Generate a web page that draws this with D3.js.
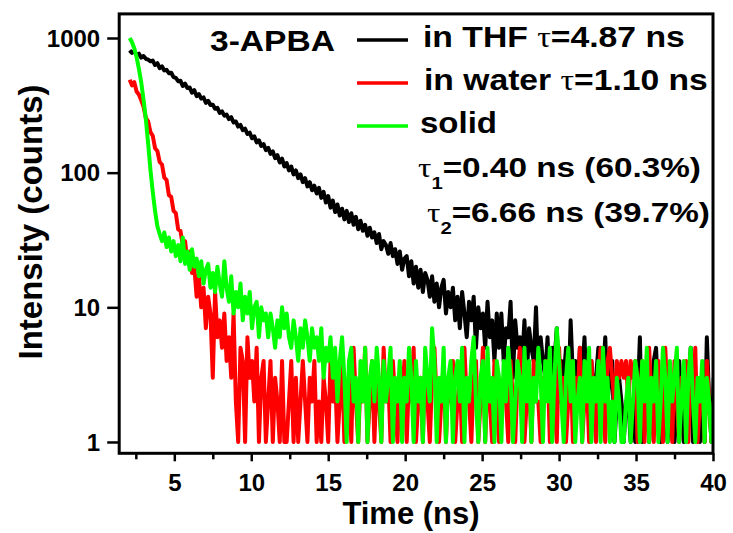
<!DOCTYPE html>
<html><head><meta charset="utf-8">
<script src="https://cdn.jsdelivr.net/npm/d3@7"></script>
<style>
body{margin:0;background:#fff}
svg{display:block}
text{font-family:"Liberation Sans",Arial,Helvetica,sans-serif;font-weight:bold;fill:#000}
</style>
</head><body>
<svg id="chart" width="733" height="533"></svg>
<script>
// TCSPC channel grid (ns)
const channelStart = 2.1, channelWidth = 0.15;

// Counts, one value per channel
const thf = [
810,775,795,750,765,715,735,700,690,672,680,630,650,598,615,575,580,548,552,512,
505,478,482,440,458,425,428,392,410,370,383,355,362,330,342,318,320,298,303,278,
285,265,270,250,258,236,240,220,226,207,212,194,198,180,186,168,174,158,163,147,
153,138,144,128,135,119,127,111,118,104,111,97,104,91,97,85,91,79,85,74,
80,70,77,65,72,60,67,55,62,51,58,48,54,45,52,43,50,41,47,38,
44,37,41,34,39,33,36,30,35,27,31,29,25,30,24,27,21,26,19,23,
24,17,22,15,20,14,19,13,18,16,12,17,11,15,10,14,16,9,13,10,
14,8,12,7,13,9,6,11,8,12,5,10,7,9,5,11,6,8,4,9,
5,9,4,7,6,11,3,8,5,6,4,8,3,7,5,4,10,3,6,4,
3,6,2,5,4,7,2,4,3,5,2,8,3,4,2,5,3,6,2,4,
4,2,3,5,2,3,6,2,3,4,1,2,3,2,1,2,2,1,2,1,
2,6,1,2,3,1,2,4,5,2,1,3,2,1,2,3,1,2,4,2,
1,3,2,5,1,2,3,1,2,1,6,2,1,3
];
const water = [
490,445,470,400,380,345,310,255,240,200,188,152,145,120,115,92,88,68,66,52,
50,38,37,29,31,22,26,18,20,12,17,10,14,7,12,9,3,13,6,8,
5,9,4,6,3,9,2,1,5,4,1,6,3,4,2,5,1,3,4,1,
2,4,1,3,2,1,4,1,1,2,4,1,3,1,2,4,2,1,3,2,
4,1,2,1,3,2,1,4,2,3,1,2,4,1,2,3,1,5,2,1,
3,2,5,1,2,4,1,3,2,1,5,2,3,1,4,2,1,3,2,4,
1,3,2,5,1,2,3,1,4,2,1,3,5,2,1,2,4,1,3,2,
4,1,2,3,1,5,2,2,1,3,4,1,2,5,1,3,2,1,4,2,
1,2,3,2,1,4,2,1,3,5,2,1,2,3,1,4,2,2,1,3,
2,4,1,3,2,1,5,2,3,1,2,4,1,3,2,5,1,2,3,1,
4,2,1,3,5,2,1,4,5,3,2,4,3,4,3,4,2,4,3,4,
1,2,4,1,3,5,2,1,3,4,2,1,5,2,3,1,4,2,1,3,
2,4,1,3,2,5,1,2,3,1,4,2,1,2
];
const solid = [
1000,930,840,720,590,470,350,250,165,105,72,52,40,35,31,36,28,33,26,31,
24,29,22,33,21,26,19,27,20,23,17,22,15,19,21,14,18,13,20,15,
12,22,14,11,17,9,13,10,15,8,12,9,13,7,10,11,6,10,8,9,
6,9,7,5,8,6,10,7,9,6,5,8,6,4,7,5,8,6,4,7,
5,6,4,7,3,5,4,6,3,5,2,4,6,3,1,4,5,2,3,1,
4,2,5,1,3,4,2,5,3,1,4,2,3,5,1,3,2,4,1,3,
2,5,3,1,4,2,3,1,5,3,2,7,4,1,3,2,5,1,3,4,
1,3,4,2,5,1,3,2,4,6,2,1,3,4,1,5,2,3,1,4,
3,1,4,2,5,3,1,2,4,3,1,5,2,4,1,3,2,5,3,1,
4,2,5,1,3,7,4,2,1,3,5,2,4,1,2,3,1,4,2,5,
1,3,2,4,1,5,2,3,1,2,1,3,2,1,1,2,3,1,2,4,
3,1,4,2,5,1,3,2,4,1,2,5,3,1,4,2,3,5,1,2,
4,1,3,5,2,1,3,2,4,1,3,2,1,2
];

const seriesNames = ["in THF", "in water", "solid"];
const seriesLifetimes = ["=4.87 ns", "=1.10 ns", ""];
const seriesColors = ["#000000", "#ff0000", "#00ff00"];
const solidComponents = [["1", "=0.40 ns (60.3%)"], ["2", "=6.66 ns (39.7%)"]];
const sampleName = "3-APBA";
const xTicks = [5, 10, 15, 20, 25, 30, 35, 40];
const xMinorTicks = [2.5, 7.5, 12.5, 17.5, 22.5, 27.5, 32.5, 37.5];
const yTicks = [1, 10, 100, 1000];
const xTitle = "Time (ns)";
const yTitle = "Intensity (counts)";

const svg = d3.select("#chart");
const L = 119.2, R = 713, T = 13.9, B = 453.3;
const x = d3.scaleLinear().domain([1.42, 40]).range([L, R]);
const y = d3.scaleLog().domain([0.824, 1510]).range([B, T]);

svg.append("clipPath").attr("id", "clip")
  .append("rect").attr("x", L).attr("y", T).attr("width", R - L).attr("height", B - T);

const seriesData = [thf, water, solid];
const line = d3.line()
  .x((d, i) => x(channelStart + i * channelWidth))
  .y(d => y(d));

const plot = svg.append("g").attr("clip-path", "url(#clip)");
seriesData.forEach((vals, k) => {
  plot.append("path").datum(vals)
    .attr("d", line)
    .attr("fill", "none")
    .attr("stroke", seriesColors[k])
    .attr("stroke-width", 4)
    .attr("stroke-linejoin", "round");
});

// axes
const yAxis = svg.append("g").attr("transform", `translate(${L},0)`)
  .call(d3.axisLeft(y).tickValues(yTicks).tickSize(12).tickPadding(7).tickFormat(d3.format("d")));
yAxis.select(".domain").remove();
yAxis.selectAll("line").attr("stroke", "#000").attr("stroke-width", 2.5);
yAxis.selectAll("text").attr("font-size", 24).attr("font-family", null).attr("dy", "0.34em");

const xAxis = svg.append("g").attr("transform", `translate(0,${B})`)
  .call(d3.axisBottom(x).tickValues(xTicks).tickSize(8).tickPadding(13).tickFormat(d3.format("d")));
xAxis.select(".domain").remove();
xAxis.selectAll("line").attr("stroke", "#000").attr("stroke-width", 2.5);
xAxis.selectAll("text").attr("font-size", 24).attr("font-family", null);

const xMinor = svg.append("g").attr("transform", `translate(0,${B})`)
  .call(d3.axisBottom(x).tickValues(xMinorTicks).tickSize(6).tickFormat(""));
xMinor.select(".domain").remove();
xMinor.selectAll("line").attr("stroke", "#000").attr("stroke-width", 2.5);

// frame
svg.append("rect").attr("x", L).attr("y", T).attr("width", R - L).attr("height", B - T)
  .attr("fill", "none").attr("stroke", "#000").attr("stroke-width", 3);

// titles
svg.append("text").attr("x", 411).attr("y", 524).attr("text-anchor", "middle")
  .attr("font-size", 31).text(xTitle);
svg.append("text").attr("transform", "translate(42,222) rotate(-90)")
  .attr("text-anchor", "middle").attr("font-size", 33).text(yTitle);

// legend
function stretched(xp, yp, size, width, build) {
  const t = svg.append("text").attr("font-size", size);
  build(t);
  const w = t.node().getBBox().width;
  t.attr("transform", `translate(${xp},${yp}) scale(${width / w},1)`);
  return t;
}
const tauFont = "'Liberation Serif','Times New Roman',serif";

stretched(210, 51, 30, 125, t => t.text(sampleName));

const legendY = [40, 83, 126];
const legendTextY = [47, 90, 133];
const legendTextX = [423, 424, 420];
const legendTextW = [262, 284, 77];
seriesNames.forEach((name, k) => {
  svg.append("line").attr("x1", 357).attr("x2", 408)
    .attr("y1", legendY[k]).attr("y2", legendY[k])
    .attr("stroke", seriesColors[k]).attr("stroke-width", 3.5);
  stretched(legendTextX[k], legendTextY[k], 29, legendTextW[k], t => {
    t.append("tspan").text(name + (seriesLifetimes[k] ? " " : ""));
    if (seriesLifetimes[k]) {
      t.append("tspan").attr("font-family", tauFont).attr("font-weight", "normal").text("τ");
      t.append("tspan").text(seriesLifetimes[k]);
    }
  });
});

const compX = [418, 427], compY = [177, 222];
solidComponents.forEach((c, k) => {
  stretched(compX[k], compY[k], 28, 283, t => {
    t.append("tspan").attr("font-family", tauFont).attr("font-weight", "normal").text("τ");
    t.append("tspan").attr("font-size", 17).attr("dy", 12).text(c[0]);
    t.append("tspan").attr("dy", -12).text(c[1]);
  });
});
</script>
</body></html>
